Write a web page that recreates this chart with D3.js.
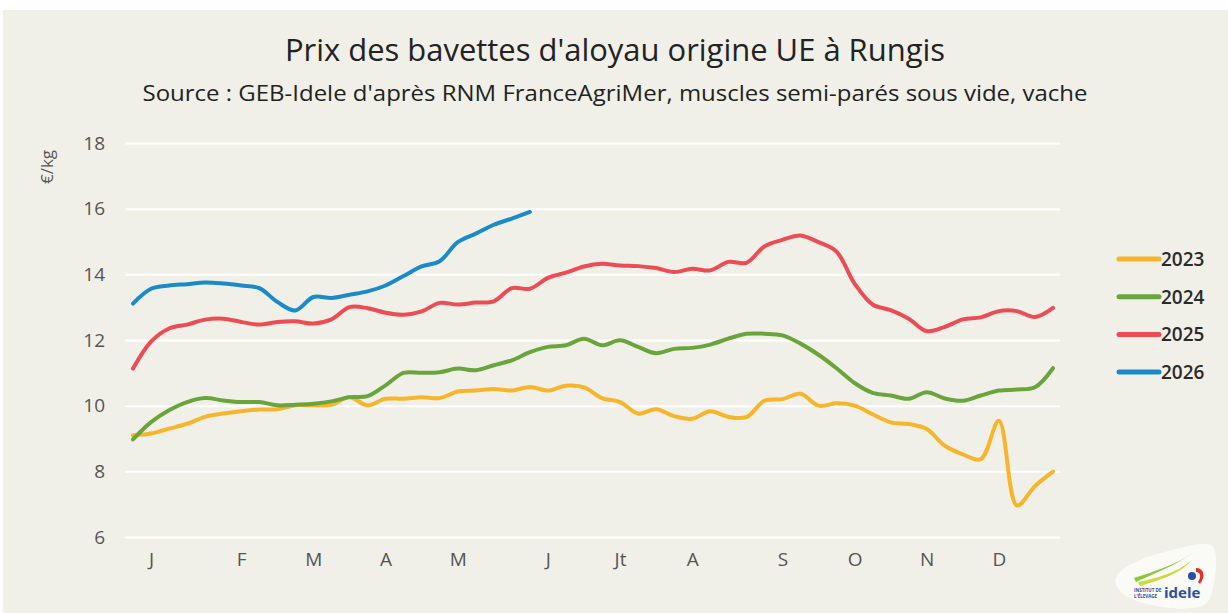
<!DOCTYPE html>
<html>
<head>
<meta charset="utf-8">
<script src="https://cdn.jsdelivr.net/npm/d3@7"></script>
<style>
  html, body { margin: 0; padding: 0; background: #fff; }
  svg { display: block; }
</style>
</head>
<body>
<script>
const width = 1228
const height = 613

// weekly prices, €/kg (week 1..52)
const years = ['2023', '2024', '2025', '2026']
const values2023 = [9.10, 9.15, 9.30, 9.45, 9.66, 9.76, 9.83, 9.88, 9.89, 10.01, 10.01, 10.03, 10.26, 10.01, 10.21, 10.21, 10.26, 10.23,
    10.43, 10.46, 10.51, 10.46, 10.57, 10.46, 10.61, 10.56, 10.23, 10.11, 9.76, 9.89, 9.68, 9.60, 9.83, 9.66, 9.65,
    10.15, 10.20, 10.36, 10.00, 10.07, 10.00, 9.74, 9.49, 9.44, 9.29, 8.78, 8.52, 8.37, 9.54, 6.96, 7.55, 7.99]
const values2024 = [8.97, 9.50, 9.86, 10.11, 10.23, 10.16, 10.11, 10.11, 10.01, 10.03, 10.06, 10.13, 10.26, 10.29, 10.62, 11.00, 11.00, 11.02,
    11.13, 11.08, 11.23, 11.38, 11.63, 11.79, 11.84, 12.04, 11.84, 11.99, 11.79, 11.60, 11.73, 11.76, 11.86, 12.04, 12.19,
    12.19, 12.14, 11.89, 11.55, 11.14, 10.69, 10.39, 10.31, 10.21, 10.41, 10.22, 10.15, 10.31, 10.46, 10.49, 10.56, 11.14]
const values2025 = [11.13, 11.95, 12.35, 12.47, 12.62, 12.65, 12.55, 12.47, 12.55, 12.57, 12.50, 12.63, 13.00, 12.97, 12.83, 12.77, 12.87, 13.13,
    13.08, 13.14, 13.18, 13.58, 13.56, 13.89, 14.05, 14.24, 14.32, 14.27, 14.25, 14.19, 14.07, 14.17, 14.12, 14.38, 14.35,
    14.85, 15.05, 15.18, 14.98, 14.69, 13.72, 13.08, 12.91, 12.65, 12.27, 12.40, 12.63, 12.69, 12.88, 12.88, 12.70, 12.98]
const values2026 = [13.11, 13.56, 13.66, 13.70, 13.75, 13.72, 13.66, 13.58, 13.16, 12.90, 13.31, 13.28, 13.38, 13.48, 13.66, 13.95, 14.24, 14.40,
    14.98, 15.24, 15.51, 15.70, 15.90]

const monthLabels = ['J', 'F', 'M', 'A', 'M', 'J', 'Jt', 'A', 'S', 'O', 'N', 'D']
const monthWeeks = [2, 7, 11, 15, 19, 24, 28, 32, 37, 41, 45, 49]
const yTicks = [6, 8, 10, 12, 14, 16, 18]

const colors = {
    background: '#f0f0e9',
    grid: '#ffffff',
    text: '#555555',
    title: '#222222',
    2023: '#f6b52a',
    2024: '#6aa53c',
    2025: '#ee4c55',
    2026: '#1a8bc8'
}

const series = [
    {name: '2023', values: values2023},
    {name: '2024', values: values2024},
    {name: '2025', values: values2025},
    {name: '2026', values: values2026}
]

const svg = d3.select('body')
    .append('svg')
    .attr('width', width)
    .attr('height', height)

svg.append('rect')
    .attr('x', 3).attr('y', 10)
    .attr('width', width - 3).attr('height', height - 10)
    .attr('fill', colors.background)

const x = d3.scaleLinear().domain([1, 52]).range([133, 1053])
const y = d3.scaleLinear().domain([6, 18]).range([537, 143])

// titles
svg.append('text')
    .attr('x', 615).attr('y', 61)
    .attr('text-anchor', 'middle')
    .attr('font-family', 'Open Sans, sans-serif')
    .attr('font-size', 31)
    .attr('fill', colors.title)
    .attr('textLength', 660)
    .attr('lengthAdjust', 'spacingAndGlyphs')
    .text("Prix des bavettes d'aloyau origine UE à Rungis")

svg.append('text')
    .attr('x', 615).attr('y', 101)
    .attr('text-anchor', 'middle')
    .attr('font-family', 'Open Sans, sans-serif')
    .attr('font-size', 22)
    .attr('fill', colors.title)
    .attr('textLength', 945)
    .attr('lengthAdjust', 'spacingAndGlyphs')
    .text("Source : GEB-Idele d'après RNM FranceAgriMer, muscles semi-parés sous vide, vache")

// grid + y axis
const yAxis = svg.append('g')
    .attr('transform', 'translate(125,0)')
    .call(d3.axisLeft(y).tickValues(yTicks).tickSize(-935).tickPadding(20).tickFormat(d3.format('d')))

yAxis.select('.domain').remove()
yAxis.selectAll('.tick line')
    .attr('stroke', colors.grid)
    .attr('stroke-width', 2)
yAxis.selectAll('.tick text')
    .attr('font-family', 'Open Sans, sans-serif')
    .attr('font-size', 19)
    .attr('fill', colors.text)

svg.append('text')
    .attr('transform', 'translate(53,167) rotate(-90)')
    .attr('text-anchor', 'middle')
    .attr('font-family', 'Open Sans, sans-serif')
    .attr('font-size', 17)
    .attr('fill', colors.text)
    .text('€/kg')

// x axis: month labels at week positions
const xAxis = svg.append('g')
    .attr('transform', 'translate(0,552)')
    .call(d3.axisBottom(x).tickValues(monthWeeks).tickSize(0).tickPadding(0)
        .tickFormat((d, i) => monthLabels[i]))

xAxis.select('.domain').remove()
xAxis.selectAll('.tick text')
    .attr('dy', '0.71em')
    .attr('font-family', 'Open Sans, sans-serif')
    .attr('font-size', 19)
    .attr('fill', colors.text)

// lines
const line = d3.line()
    .x((d, i) => x(i + 1))
    .y(d => y(d))
    .curve(d3.curveCatmullRom.alpha(0.5))

svg.append('g')
    .selectAll('path')
    .data(series)
    .enter().append('path')
    .attr('d', d => line(d.values))
    .attr('fill', 'none')
    .attr('stroke', d => colors[d.name])
    .attr('stroke-width', 4)
    .attr('stroke-linecap', 'round')
    .attr('stroke-linejoin', 'round')

// legend
const legend = svg.append('g')
    .selectAll('g')
    .data(years)
    .enter().append('g')
    .attr('transform', (d, i) => `translate(1117,${259 + i * 37.7})`)

legend.append('line')
    .attr('x1', 2).attr('x2', 42)
    .attr('stroke', d => colors[d])
    .attr('stroke-width', 5)
    .attr('stroke-linecap', 'round')

legend.append('text')
    .attr('x', 44)
    .attr('dy', '0.36em')
    .attr('font-family', 'Open Sans, sans-serif')
    .attr('font-size', 19)
    .attr('font-weight', 600)
    .attr('fill', '#2a2a2a')
    .text(d => d)

// logo
const logo = svg.append('g').attr('transform', 'translate(1112,542)')
logo.append('path')
    .attr('d', 'M4,42 C0,30 20,18 60,8 C80,3 98,-2 102,6 C106,16 104,40 98,56 C94,66 80,68 60,66 C30,63 8,56 4,42 Z')
    .attr('fill', '#fafaf7')
logo.append('path')
    .attr('d', 'M22,36 C40,30 62,24 82,10 C66,22 46,30 24,40 Z')
    .attr('fill', '#8cc63f')
logo.append('path')
    .attr('d', 'M26,40 C46,36 66,30 80,18 C68,32 48,38 28,44 Z')
    .attr('fill', '#c8dc3c')
logo.append('circle').attr('cx', 80).attr('cy', 34).attr('r', 4).attr('fill', '#2a4fa0')
logo.append('path')
    .attr('d', 'M84,26 C92,26 94,34 88,42 L86,40 C90,34 88,30 84,30 Z')
    .attr('fill', '#e4302f')
logo.append('text')
    .attr('x', 52).attr('y', 56)
    .attr('font-family', 'Open Sans, sans-serif')
    .attr('font-size', 15)
    .attr('font-weight', 700)
    .attr('fill', '#2a4fa0')
    .text('idele')
logo.append('text')
    .attr('x', 22).attr('y', 50)
    .attr('font-family', 'Open Sans, sans-serif')
    .attr('font-size', 4.5)
    .attr('font-weight', 700)
    .attr('fill', '#2a4fa0')
    .text('INSTITUT DE')
logo.append('text')
    .attr('x', 22).attr('y', 56)
    .attr('font-family', 'Open Sans, sans-serif')
    .attr('font-size', 4.5)
    .attr('font-weight', 700)
    .attr('fill', '#2a4fa0')
    .text("L'ÉLEVAGE")
</script>
</body>
</html>
